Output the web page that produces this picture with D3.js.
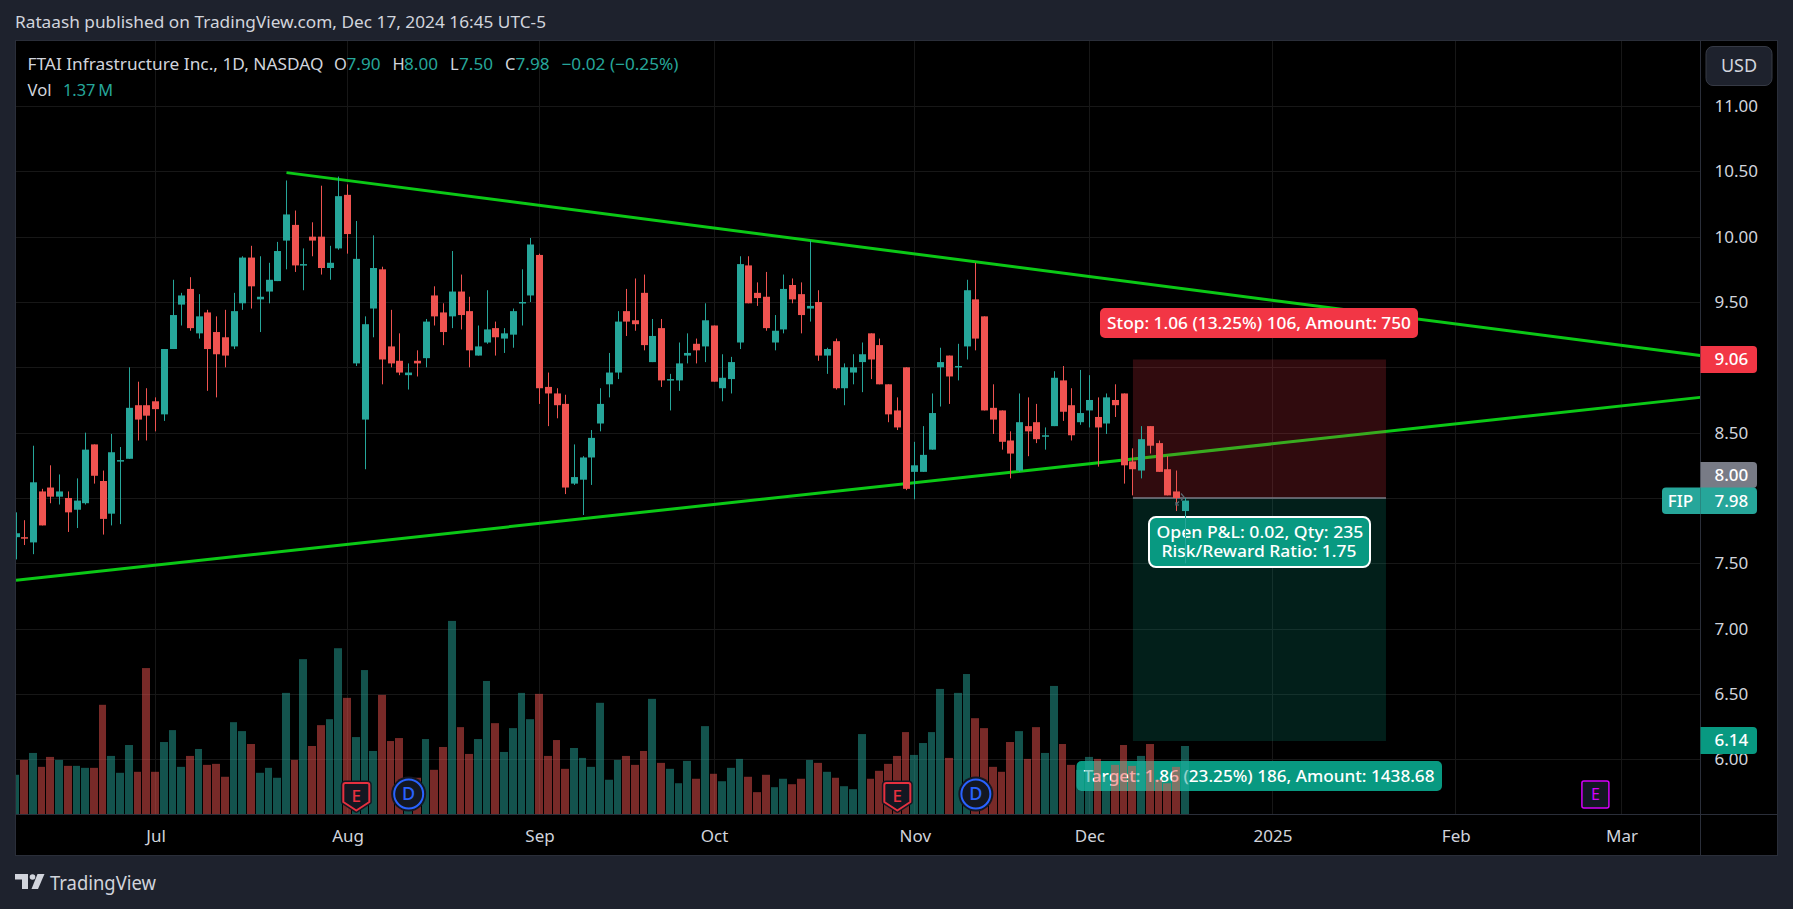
<!DOCTYPE html>
<html>
<head>
<meta charset="utf-8">
<script src="https://cdn.jsdelivr.net/npm/d3@7"></script>
<style>
    html, body { margin: 0; padding: 0; background: #1e222d; overflow: hidden; }
    svg { display: block; }
    text { font-family: "Noto Sans", sans-serif; }
</style>
</head>
<body>
<div id="chart"></div>
<script>
// daily bars, index 0 is mid June 2024
const opens = [
    7.70,7.70,7.66,8.05,8.08,8.01,8.00,7.91,7.96,8.41,
    8.13,7.88,8.28,8.30,8.71,8.71,8.74,8.64,9.14,9.48,
    9.60,9.26,9.42,9.27,9.23,9.16,9.49,9.84,9.52,9.58,
    9.66,9.97,10.09,9.78,10.00,10.00,9.76,9.91,10.32,9.03,
    8.60,9.45,9.75,9.16,9.05,8.94,9.05,9.07,9.55,9.42,
    9.39,9.58,9.43,9.09,9.19,9.30,9.22,9.25,9.49,9.55,
    9.86,8.85,8.80,8.72,8.11,8.14,8.31,8.57,8.87,8.96,
    9.43,9.36,9.57,9.04,9.30,8.90,8.90,9.09,9.18,9.16,
    9.32,8.84,8.91,9.19,9.78,9.57,9.54,9.19,9.29,9.63,
    9.56,9.45,9.50,9.09,9.20,8.84,8.96,9.04,9.26,9.17,
    8.87,8.67,9.00,8.20,8.20,8.37,9.00,9.09,9.00,9.16,
    9.52,9.39,8.69,8.67,8.44,8.21,8.55,8.58,8.47,8.55,
    8.90,8.71,8.58,8.67,8.62,8.57,8.75,8.80,8.28,8.21,
    8.55,8.42,8.22,8.05,7.90
];
const highs = [
    7.89,7.83,8.40,8.07,8.25,8.18,8.05,8.15,8.50,8.41,
    8.21,8.49,8.39,9.00,8.89,8.84,8.77,9.14,9.67,9.57,
    9.69,9.56,9.44,9.39,9.44,9.57,9.85,9.93,9.85,9.80,
    9.96,10.43,10.20,9.91,10.11,10.39,9.93,10.46,10.40,10.12,
    9.39,10.01,9.77,9.44,9.26,9.03,9.13,9.37,9.62,9.49,
    9.89,9.71,9.54,9.32,9.59,9.35,9.30,9.45,9.75,9.99,
    9.87,8.96,8.84,8.79,8.41,8.32,8.52,8.84,9.11,9.43,
    9.60,9.68,9.71,9.37,9.37,8.95,9.19,9.26,9.22,9.49,
    9.32,9.10,9.08,9.85,9.85,9.65,9.73,9.40,9.71,9.68,
    9.65,9.97,9.59,9.15,9.22,9.03,9.10,9.19,9.26,9.22,
    8.87,8.77,9.00,8.43,8.55,8.80,9.15,9.09,9.18,9.67,
    9.80,9.39,8.87,8.67,8.51,8.80,8.77,8.72,8.54,8.97,
    9.01,8.84,8.98,8.94,8.77,8.80,8.87,8.80,8.38,8.55,
    8.55,8.44,8.32,8.21,8.00
];
const lows = [
    7.53,7.64,7.57,7.79,7.96,7.95,7.74,7.77,7.95,8.11,
    7.72,7.79,7.80,8.30,8.44,8.44,8.51,8.59,9.14,9.32,
    9.28,9.22,8.82,8.77,9.00,9.14,9.44,9.45,9.27,9.49,
    9.66,9.75,9.73,9.59,9.85,9.71,9.67,9.90,9.87,9.01,
    8.22,9.23,8.87,9.00,8.94,8.83,8.93,9.00,9.32,9.17,
    9.30,9.29,9.00,9.09,9.18,9.09,9.11,9.15,9.32,9.50,
    8.72,8.55,8.61,8.03,8.10,7.87,8.10,8.51,8.77,8.91,
    9.24,9.28,9.13,9.04,8.85,8.67,8.82,9.03,9.03,9.04,
    8.89,8.74,8.80,9.14,9.49,9.47,9.28,9.13,9.26,9.49,
    9.26,9.35,9.05,8.95,8.83,8.71,8.87,8.81,8.91,8.87,
    8.58,8.52,8.06,7.99,8.20,8.37,8.70,8.72,8.90,9.06,
    9.13,8.67,8.49,8.37,8.15,8.20,8.32,8.42,8.37,8.55,
    8.59,8.44,8.56,8.54,8.24,8.49,8.62,8.11,8.02,8.15,
    8.34,8.20,8.02,7.90,7.50
];
const closes = [
    7.73,7.69,8.12,7.79,8.01,8.05,7.89,7.98,8.37,8.17,
    7.84,8.35,8.29,8.69,8.60,8.63,8.68,9.14,9.40,9.55,
    9.30,9.39,9.14,9.10,9.09,9.43,9.84,9.62,9.54,9.67,
    9.89,10.17,9.78,9.79,9.97,9.76,9.80,10.31,10.02,9.83,
    9.33,9.76,9.06,9.03,8.96,8.96,9.03,9.35,9.39,9.27,
    9.58,9.40,9.13,9.16,9.29,9.23,9.26,9.43,9.50,9.94,
    8.84,8.80,8.71,8.08,8.16,8.31,8.46,8.72,8.96,9.35,
    9.35,9.33,9.17,9.24,8.90,8.91,9.03,9.11,9.13,9.36,
    8.89,8.92,9.04,9.79,9.49,9.53,9.30,9.28,9.60,9.52,
    9.40,9.47,9.09,9.14,8.84,9.00,9.00,9.10,9.06,8.87,
    8.64,8.54,8.07,8.25,8.33,8.65,9.04,8.93,9.01,9.59,
    9.22,8.67,8.60,8.43,8.34,8.58,8.51,8.45,8.48,8.92,
    8.66,8.48,8.65,8.75,8.54,8.77,8.71,8.25,8.22,8.45,
    8.40,8.20,8.02,8.00,7.98
];
// volume in millions
const volumes = [
    0.79,1.09,1.23,0.95,1.15,1.09,0.97,0.97,0.93,0.93,
    2.20,1.17,0.83,1.39,0.85,2.94,0.85,1.45,1.69,0.95,
    1.17,1.31,0.99,1.01,0.75,1.85,1.67,1.41,0.83,0.93,
    0.73,2.44,1.09,3.12,1.37,1.79,1.91,3.34,2.34,1.55,
    2.90,1.27,2.40,1.47,1.53,0.55,0.73,1.51,0.89,1.35,
    3.89,1.75,1.21,1.51,2.68,1.83,1.25,1.73,2.44,1.91,
    2.42,1.17,1.49,0.91,1.33,1.13,0.95,2.24,0.69,1.09,
    1.17,0.99,1.27,2.32,1.03,0.91,0.62,1.07,0.71,1.77,
    0.81,0.66,0.93,1.11,0.75,0.44,0.79,0.54,0.71,0.60,
    0.71,1.09,1.03,0.85,0.73,0.56,0.50,1.61,0.71,0.87,
    1.01,1.17,1.65,1.19,1.43,1.65,2.52,1.13,2.44,2.82,
    1.93,1.73,0.95,0.85,1.45,1.67,1.11,1.75,1.23,2.58,
    1.41,0.99,0.89,1.15,1.11,0.75,0.99,1.39,0.97,1.17,
    1.41,0.69,0.62,0.95,1.37
];

const priceTicks = [6, 6.5, 7, 7.5, 8, 8.5, 9, 9.5, 10, 10.5, 11];
const timeTickBars = [16, 38, 60, 80, 103, 123, 144, 165, 184];
const timeTickLabels = ['Jul', 'Aug', 'Sep', 'Oct', 'Nov', 'Dec', '2025', 'Feb', 'Mar'];

// [bar, price] of the two drawn trend lines
const upperTrend = [[31, 10.49], [193, 9.09]];
const lowerTrend = [[0, 7.37], [193, 8.77]];

// long position tool
const entryPrice = 8.00;
const stopPrice = 9.06;
const targetPrice = 6.14;
const positionBars = [128, 157];

const earningsBars = [39, 101];
const dividendBars = [45, 110];
const nextEarningsBar = 181;

// layout
const width = 1793;
const height = 909;
const paneLeft = 16;
const paneRight = 1700.5;
const paneTop = 41;
const paneBottom = 814;
const frameRight = 1777.5;
const frameBottom = 855.5;
const priceTextX = 1714.5;

const UP = '#26a69a';
const DOWN = '#ef5350';
const TEXT = '#d1d4dc';
const LINE = '#2a2e39';
const GRID = '#171717';
const TREND = '#0bc916';
const LOSS = '#f23645';
const GAIN = '#089981';
const BADGE = '#131722';

const x = d3.scaleLinear().domain([0, 193]).range([paneLeft, paneLeft + 193 * 8.726]);
const y = d3.scaleLinear().domain([11, 6]).range([106, 759.3]);
const yVol = d3.scaleLinear().domain([0, 1.37]).range([paneBottom, paneBottom - 68]);

const svg = d3.select('#chart').append('svg')
    .attr('width', width)
    .attr('height', height);

svg.append('defs').append('clipPath')
    .attr('id', 'pane')
    .append('rect')
    .attr('x', paneLeft)
    .attr('y', paneTop)
    .attr('width', paneRight - paneLeft)
    .attr('height', paneBottom - paneTop);

function label(parent, px, py, str, opts = {}) {
    const t = parent.append('text')
        .attr('x', px)
        .attr('y', py)
        .attr('dy', '.35em')
        .attr('fill', opts.fill || TEXT)
        .attr('text-anchor', opts.anchor || 'start')
        .style('font-size', (opts.size || 16) + 'px')
        .text(str);
    if (opts.len) {
        t.attr('textLength', opts.len).attr('lengthAdjust', 'spacingAndGlyphs');
    }
    if (opts.weight) t.style('font-weight', opts.weight);
    return t;
}

// frame
svg.append('rect')
    .attr('x', paneLeft - 0.5)
    .attr('y', paneTop - 0.5)
    .attr('width', frameRight - paneLeft + 0.5)
    .attr('height', frameBottom - paneTop + 0.5)
    .attr('fill', '#000')
    .attr('stroke', LINE);

// grid
const grid = svg.append('g').attr('clip-path', 'url(#pane)');
grid.selectAll('.h')
    .data(priceTicks)
    .join('line')
    .attr('x1', paneLeft)
    .attr('x2', paneRight)
    .attr('y1', d => Math.round(y(d)) + 0.5)
    .attr('y2', d => Math.round(y(d)) + 0.5)
    .attr('stroke', GRID);
grid.selectAll('.v')
    .data(timeTickBars)
    .join('line')
    .attr('x1', d => Math.floor(x(d)) + 0.5)
    .attr('x2', d => Math.floor(x(d)) + 0.5)
    .attr('y1', paneTop)
    .attr('y2', paneBottom)
    .attr('stroke', GRID);

const plot = svg.append('g').attr('clip-path', 'url(#pane)');

// trend lines
[upperTrend, lowerTrend].forEach(points => {
    plot.append('path')
        .attr('d', d3.line().x(d => x(d[0])).y(d => y(d[1]))(points))
        .attr('fill', 'none')
        .attr('stroke', TREND)
        .attr('stroke-width', 3);
});

// position tool
plot.append('rect')
    .attr('x', x(positionBars[0]))
    .attr('y', y(stopPrice))
    .attr('width', x(positionBars[1]) - x(positionBars[0]))
    .attr('height', y(entryPrice) - y(stopPrice))
    .attr('fill', LOSS)
    .attr('fill-opacity', 0.2);
plot.append('rect')
    .attr('x', x(positionBars[0]))
    .attr('y', y(entryPrice))
    .attr('width', x(positionBars[1]) - x(positionBars[0]))
    .attr('height', y(targetPrice) - y(entryPrice))
    .attr('fill', GAIN)
    .attr('fill-opacity', 0.2);
plot.append('line')
    .attr('x1', x(positionBars[0]))
    .attr('x2', x(positionBars[1]))
    .attr('y1', y(entryPrice))
    .attr('y2', y(entryPrice))
    .attr('stroke', '#787b86')
    .attr('stroke-width', 1.5);

const midX = x(positionBars[0]) + 127;

// stop label
plot.append('rect')
    .attr('x', 1100).attr('y', 308).attr('width', 318).attr('height', 30)
    .attr('rx', 5).attr('fill', LOSS);
label(plot, 1259, 323, 'Stop: 1.06 (13.25%) 106, Amount: 750', { fill: '#fff', anchor: 'middle', size: 16, len: 304, weight: 500 });

// target label
plot.append('rect')
    .attr('x', 1076.5).attr('y', 761).attr('width', 365.5).attr('height', 30)
    .attr('rx', 5).attr('fill', GAIN);
label(plot, 1259, 776, 'Target: 1.86 (23.25%) 186, Amount: 1438.68', { fill: '#fff', anchor: 'middle', size: 16, len: 351, weight: 500 });

// open p&l label
plot.append('rect')
    .attr('x', 1149).attr('y', 517).attr('width', 221).attr('height', 50)
    .attr('rx', 7).attr('fill', GAIN)
    .attr('stroke', '#fff').attr('stroke-width', 2);
label(plot, midX, 532.5, 'Open P&L: 0.02, Qty: 235', { fill: '#fff', anchor: 'middle', size: 16, len: 207, weight: 500 });
label(plot, midX - 1, 551, 'Risk/Reward Ratio: 1.75', { fill: '#fff', anchor: 'middle', size: 16, len: 195, weight: 500 });

// volume
plot.selectAll('.vol')
    .data(volumes)
    .join('rect')
    .attr('x', (d, i) => Math.floor(x(i)) - 4)
    .attr('y', d => yVol(d))
    .attr('width', (d, i) => Math.floor(x(i + 1)) - Math.floor(x(i)) - 1)
    .attr('height', d => paneBottom - yVol(d))
    .attr('fill', (d, i) => closes[i] >= opens[i] ? UP : DOWN)
    .attr('fill-opacity', 0.5);

// candles
const candles = plot.selectAll('.candle')
    .data(opens)
    .join('g');
candles.append('rect')
    .attr('x', (d, i) => Math.floor(x(i)))
    .attr('y', (d, i) => y(highs[i]))
    .attr('width', 1)
    .attr('height', (d, i) => y(lows[i]) - y(highs[i]))
    .attr('fill', (d, i) => closes[i] >= opens[i] ? UP : DOWN);
candles.append('rect')
    .attr('x', (d, i) => Math.round(x(i) - 3.5))
    .attr('y', (d, i) => y(Math.max(opens[i], closes[i])))
    .attr('width', 7)
    .attr('height', (d, i) => Math.max(1.5, Math.abs(y(opens[i]) - y(closes[i]))))
    .attr('fill', (d, i) => closes[i] >= opens[i] ? UP : DOWN);

// little open p&l arrow between the last two bars
plot.append('path')
    .attr('d', 'M1181,493.5l3,3.5l-3,3.5M1179,501.5l-3,3M1176,502v3h3')
    .attr('fill', 'none')
    .attr('stroke', '#5d6a72')
    .attr('stroke-width', 1.2);

// earnings and dividend marks
earningsBars.forEach(b => {
    const m = plot.append('g').attr('transform', `translate(${x(b)}, 781)`);
    m.append('path')
        .attr('d', 'M-11,2 Q-13,2 -13,4 V21 L0,29.5 L13,21 V4 Q13,2 11,2 Z')
        .attr('fill', BADGE)
        .attr('stroke', BADGE)
        .attr('stroke-width', 5)
        .attr('stroke-linejoin', 'round');
    m.append('path')
        .attr('d', 'M-11,2 Q-13,2 -13,4 V21 L0,29.5 L13,21 V4 Q13,2 11,2 Z')
        .attr('fill', BADGE)
        .attr('stroke', '#e5303f')
        .attr('stroke-width', 2)
        .attr('stroke-linejoin', 'round');
    label(m, 0, 15, 'E', { fill: '#e5303f', anchor: 'middle', size: 17, weight: 500 });
});
dividendBars.forEach(b => {
    const m = plot.append('g').attr('transform', `translate(${x(b)}, 794)`);
    m.append('circle').attr('r', 17.5).attr('fill', BADGE);
    m.append('circle').attr('r', 14.5).attr('fill', BADGE).attr('stroke', '#2962ff').attr('stroke-width', 2);
    label(m, 0, 0, 'D', { fill: '#2962ff', anchor: 'middle', size: 18, weight: 500 });
});
const nextE = plot.append('g').attr('transform', `translate(${x(nextEarningsBar)}, 794.5)`);
nextE.append('rect')
    .attr('x', -13.5).attr('y', -13.5).attr('width', 27).attr('height', 27)
    .attr('rx', 2).attr('fill', BADGE)
    .attr('stroke', '#d500f9').attr('stroke-width', 1.5);
label(nextE, 0, 0, 'E', { fill: '#d500f9', anchor: 'middle', size: 16 });

// axes
svg.append('line')
    .attr('x1', paneRight).attr('x2', paneRight)
    .attr('y1', paneTop).attr('y2', frameBottom)
    .attr('stroke', LINE);
svg.append('line')
    .attr('x1', paneLeft).attr('x2', frameRight)
    .attr('y1', paneBottom + 0.5).attr('y2', paneBottom + 0.5)
    .attr('stroke', LINE);

const yAxis = svg.append('g')
    .attr('transform', `translate(${paneRight}, 0)`)
    .call(d3.axisRight(y).tickValues(priceTicks).tickFormat(d3.format('.2f')).tickSize(0));
yAxis.select('.domain').remove();
yAxis.selectAll('text')
    .attr('x', priceTextX - paneRight)
    .attr('text-anchor', 'start')
    .attr('fill', TEXT)
    .style('font-size', '17px');

const xAxis = svg.append('g')
    .attr('transform', `translate(0, ${paneBottom})`)
    .call(d3.axisBottom(x).tickValues(timeTickBars).tickFormat((d, i) => timeTickLabels[i]).tickSize(0));
xAxis.select('.domain').remove();
xAxis.selectAll('text')
    .attr('y', 22)
    .attr('dy', '.35em')
    .attr('fill', TEXT)
    .style('font-size', '17px');

// last price labels
function priceTag(top, h, str, fill) {
    svg.append('path')
        .attr('d', `M${paneRight},${top}H1753a4,4 0 0 1 4,4V${top + h - 4}a4,4 0 0 1 -4,4H${paneRight}Z`)
        .attr('fill', fill);
    label(svg, priceTextX, top + h / 2, str, { fill: '#fff', size: 17, weight: 500 });
}
priceTag(346, 27, d3.format('.2f')(stopPrice), LOSS);
priceTag(462, 26, '8.00', '#787b86');
priceTag(487.5, 26.5, d3.format('.2f')(closes[closes.length - 1]), UP);
priceTag(727, 27, d3.format('.2f')(targetPrice), GAIN);
svg.append('path')
    .attr('d', `M${paneRight},487.5H1666a4,4 0 0 0 -4,4V510a4,4 0 0 0 4,4H${paneRight}Z`)
    .attr('fill', UP);
label(svg, 1680.5, 501, 'FIP', { fill: '#fff', anchor: 'middle', size: 17, weight: 500 });

// currency button
svg.append('rect')
    .attr('x', 1706).attr('y', 46.5).attr('width', 66).attr('height', 39)
    .attr('rx', 7).attr('fill', '#1e222d').attr('stroke', '#363a45');
label(svg, 1739, 66, 'USD', { anchor: 'middle', size: 18 });

// header and legend
label(svg, 15, 22, 'Rataash published on TradingView.com, Dec 17, 2024 16:45 UTC-5', { size: 16, len: 531 });
label(svg, 27.5, 64, 'FTAI Infrastructure Inc., 1D, NASDAQ', { size: 16.5, len: 296 });
label(svg, 334, 64, 'O', { size: 16.5 });
label(svg, 346.5, 64, '7.90', { size: 16.5, fill: UP, len: 34 });
label(svg, 392.5, 64, 'H', { size: 16.5 });
label(svg, 404, 64, '8.00', { size: 16.5, fill: UP, len: 34 });
label(svg, 450, 64, 'L', { size: 16.5 });
label(svg, 459, 64, '7.50', { size: 16.5, fill: UP, len: 34 });
label(svg, 505, 64, 'C', { size: 16.5 });
label(svg, 515.5, 64, '7.98', { size: 16.5, fill: UP, len: 34 });
label(svg, 561.5, 64, '\u22120.02 (\u22120.25%)', { size: 16.5, fill: UP, len: 117 });
label(svg, 27.5, 90, 'Vol', { size: 16.5, len: 24 });
label(svg, 63, 90, '1.37\u2009M', { size: 16.5, fill: UP, len: 50 });

// logo
const logo = svg.append('g').attr('transform', 'translate(15, 874)').attr('fill', TEXT);
logo.append('path').attr('d', 'M0,0H13V15H7V5.5H0Z');
logo.append('circle').attr('cx', 17.5).attr('cy', 3).attr('r', 2.8);
logo.append('path').attr('d', 'M22.5,0H29.5L23,15H16.5Z');
label(svg, 50, 883, 'TradingView', { size: 19, len: 106 });
</script>
</body>
</html>
